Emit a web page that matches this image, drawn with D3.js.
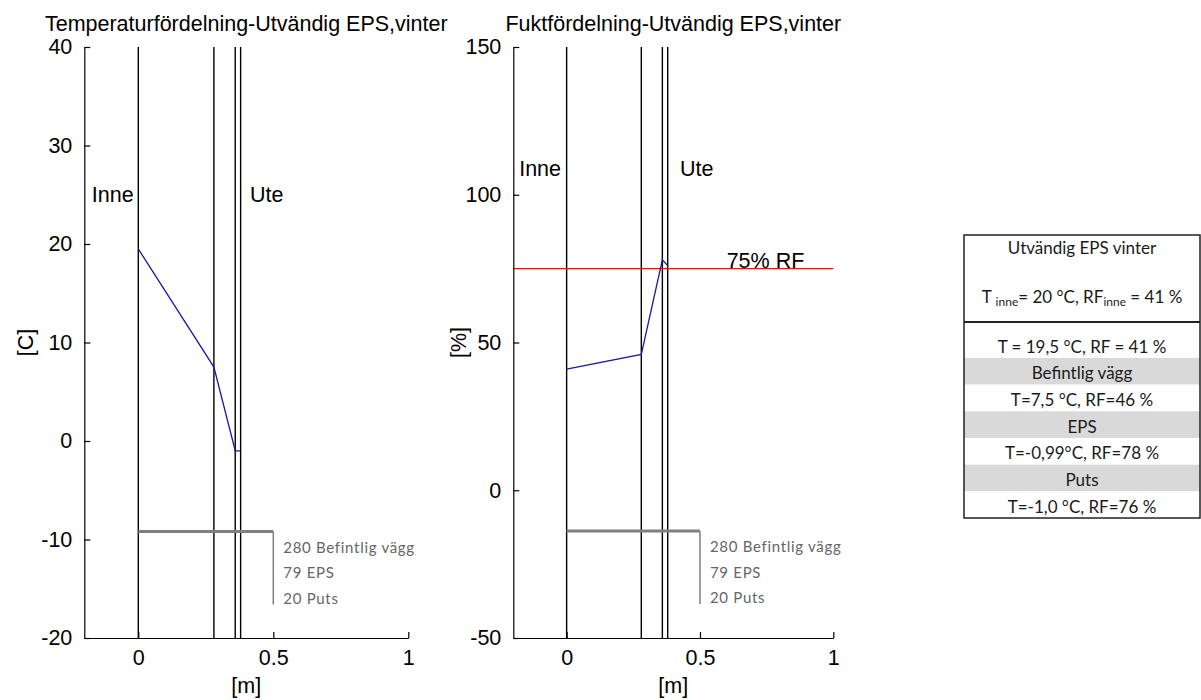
<!DOCTYPE html>
<html>
<head>
<meta charset="utf-8">
<script src="https://cdn.jsdelivr.net/npm/d3@7"></script>
<style>
  html, body { margin: 0; padding: 0; background: #fff; }
  svg { display: block; }
  .lbl { font-family: "Liberation Sans", Arial, sans-serif; font-size: 21.5px; fill: #000; }
  .note { font-family: Lato, "Open Sans", sans-serif; font-size: 15px; letter-spacing: 0.7px; fill: #666; }
  .tbl { font-family: Lato, "Open Sans", sans-serif; font-size: 17px; fill: #1a1a1a; }
</style>
</head>
<body>
<svg id="chart" width="1201" height="700"></svg>
<script>
// Layer boundaries through the wall [m], inside at 0
const layerX = [0, 0.28, 0.359, 0.379];
// Layer thickness [mm] and names
const layerThickness = [280, 79, 20];
const layerNames = ["Befintlig vägg", "EPS", "Puts"];
// Temperature [°C] and relative humidity [%] at each boundary
const tempC = [19.5, 7.5, -0.99, -1.0];
const rfPct = [41, 46, 78, 76];
// Critical relative humidity
const rfLimit = 75;
// Axis ticks
const xTicks = [0, 0.5, 1];
const tempTicks = [-20, -10, 0, 10, 20, 30, 40];
const rfTicks = [-50, 0, 50, 100, 150];
// Summary table
const tableTitle = "Utvändig EPS vinter";
const indoorT = "20 °C";
const indoorRF = "41 %";
const tableRows = [
  "T = 19,5 °C, RF = 41 %",
  "Befintlig vägg",
  "T=7,5 °C, RF=46 %",
  "EPS",
  "T=-0,99°C, RF=78 %",
  "Puts",
  "T=-1,0 °C, RF=76 %"
];
const shadedRows = [false, true, false, true, false, true, false];

const svg = d3.select("#chart");

function drawPanel(opt) {
  const x = d3.scaleLinear().domain([-0.2, 1]).range([opt.left, opt.right]);
  const y = d3.scaleLinear().domain(opt.yDomain).range([638, 47]);
  const g = svg.append("g");

  // title
  g.append("text").attr("class", "lbl")
    .attr("x", (opt.left + opt.right) / 2).attr("y", 31)
    .attr("text-anchor", "middle").text(opt.title);

  // layer boundaries
  g.selectAll("line.layer").data(layerX).join("line")
    .attr("class", "layer")
    .attr("x1", d => x(d)).attr("x2", d => x(d))
    .attr("y1", y(opt.yDomain[0])).attr("y2", y(opt.yDomain[1]))
    .attr("stroke", "#000").attr("stroke-width", 1.4);

  // reference line (optional)
  if (opt.limit !== undefined) {
    g.append("line")
      .attr("x1", x(-0.2)).attr("x2", x(1))
      .attr("y1", y(opt.limit)).attr("y2", y(opt.limit))
      .attr("stroke", "#cc1f1f").attr("stroke-width", 1.2);
    g.append("text").attr("class", "lbl")
      .attr("x", x(0.6)).attr("y", y(opt.limit) - 1)
      .text(opt.limitLabel);
  }

  // profile through the wall
  const line = d3.line().x((d, i) => x(layerX[i])).y(d => y(d));
  g.append("path").datum(opt.values)
    .attr("d", line).attr("fill", "none")
    .attr("stroke", "#1a1a9a").attr("stroke-width", 1.3);

  // layer legend bracket
  g.append("path")
    .attr("d", `M${x(0)},${y(opt.bracketY)}H${x(0.5)}`)
    .attr("stroke", "#7f7f7f").attr("stroke-width", 3).attr("fill", "none");
  g.append("path")
    .attr("d", `M${x(0.5)},${y(opt.bracketY)}V${y(opt.bracketEnd)}`)
    .attr("stroke", "#7f7f7f").attr("stroke-width", 1.5).attr("fill", "none");
  const noteY0 = y(opt.bracketY);
  g.selectAll("text.note").data(layerNames).join("text")
    .attr("class", "note")
    .attr("x", x(0.5) + 10)
    .attr("y", (d, i) => noteY0 + 16 + i * 25.5)
    .attr("dy", "0.35em")
    .text((d, i) => layerThickness[i] + " " + d);

  // Inne / Ute
  g.append("text").attr("class", "lbl").attr("x", x(opt.inneX)).attr("y", y(opt.sideY))
    .attr("dy", "0.35em").text("Inne");
  g.append("text").attr("class", "lbl").attr("x", x(opt.uteX)).attr("y", y(opt.sideY))
    .attr("dy", "0.35em").text("Ute");

  // axes (ticks pointing inward)
  const xAxis = d3.axisBottom(x).tickValues(xTicks).tickSizeInner(-6).tickSizeOuter(0)
    .tickPadding(12).tickFormat(d3.format("~g"));
  const gx = g.append("g").attr("transform", `translate(0,${y(opt.yDomain[0])})`).call(xAxis);
  const yAxis = d3.axisLeft(y).tickValues(opt.yTicks).tickSizeInner(-6).tickSizeOuter(0)
    .tickPadding(12).tickFormat(d => String(d).replace("\u2212", "-"));
  const gy = g.append("g").attr("transform", `translate(${x(-0.2)},0)`).call(yAxis);
  [gx, gy].forEach(a => {
    a.select(".domain").attr("stroke", "#000").attr("stroke-width", 1.2);
    a.selectAll(".tick line").attr("stroke", "#000").attr("stroke-width", 1.2);
    a.selectAll(".tick text").attr("class", "lbl").attr("font-family", null).attr("font-size", null);
  });
  gx.selectAll(".tick text").attr("dy", "0.71em");

  // axis titles
  g.append("text").attr("class", "lbl")
    .attr("x", (opt.left + opt.right) / 2).attr("y", 693)
    .attr("text-anchor", "middle").text("[m]");
  g.append("text").attr("class", "lbl")
    .attr("transform", `translate(${opt.yLabelX},${(47 + 638) / 2}) rotate(-90)`)
    .attr("text-anchor", "middle").attr("dy", "0.35em").text(opt.yLabel);
}

drawPanel({
  left: 84.3, right: 408.3, yDomain: [-20, 40], yTicks: tempTicks,
  values: tempC, title: "Temperaturfördelning-Utvändig EPS,vinter",
  yLabel: "[C]", yLabelX: 25,
  inneX: -0.172, uteX: 0.414, sideY: 25,
  bracketY: -9.2, bracketEnd: -16.6
});

drawPanel({
  left: 513.3, right: 833.3, yDomain: [-50, 150], yTicks: rfTicks,
  values: rfPct, title: "Fuktfördelning-Utvändig EPS,vinter",
  yLabel: "[%]", yLabelX: 458,
  inneX: -0.178, uteX: 0.425, sideY: 109,
  bracketY: -13.8, bracketEnd: -38.5,
  limit: rfLimit, limitLabel: "75% RF"
});

// summary table
(function drawTable() {
  const tx0 = 964, tx1 = 1200, tcx = (tx0 + tx1) / 2;
  const g = svg.append("g");
  const row = d3.scaleLinear().domain([0, tableRows.length]).range([331.3, 518]);
  g.selectAll("rect.band").data(tableRows).join("rect")
    .attr("class", "band")
    .attr("x", tx0).attr("width", tx1 - tx0)
    .attr("y", (d, i) => row(i)).attr("height", (d, i) => row(i + 1) - row(i))
    .attr("fill", (d, i) => shadedRows[i] ? "#d9d9d9" : "#fff");
  g.selectAll("text.row").data(tableRows).join("text")
    .attr("class", "tbl")
    .attr("x", tcx).attr("y", (d, i) => (row(i) + row(i + 1)) / 2 + 2)
    .attr("text-anchor", "middle").attr("dy", "0.35em").text(d => d);

  g.append("text").attr("class", "tbl").attr("x", tcx).attr("y", 248)
    .attr("text-anchor", "middle").attr("dy", "0.35em").text(tableTitle);
  const h = g.append("text").attr("class", "tbl").attr("x", tcx).attr("y", 297)
    .attr("text-anchor", "middle").attr("dy", "0.35em");
  h.append("tspan").text("T ");
  h.append("tspan").attr("font-size", "12px").attr("dy", "3").text("inne");
  h.append("tspan").attr("dy", "-3").text("= " + indoorT + ", RF");
  h.append("tspan").attr("font-size", "12px").attr("dy", "3").text("inne");
  h.append("tspan").attr("dy", "-3").text(" = " + indoorRF);

  g.append("rect").attr("x", tx0).attr("y", 235).attr("width", tx1 - tx0).attr("height", 518 - 235)
    .attr("fill", "none").attr("stroke", "#222").attr("stroke-width", 1.5);
  g.append("line").attr("x1", tx0).attr("x2", tx1).attr("y1", 322).attr("y2", 322)
    .attr("stroke", "#222").attr("stroke-width", 2);
})();
</script>
</body>
</html>
